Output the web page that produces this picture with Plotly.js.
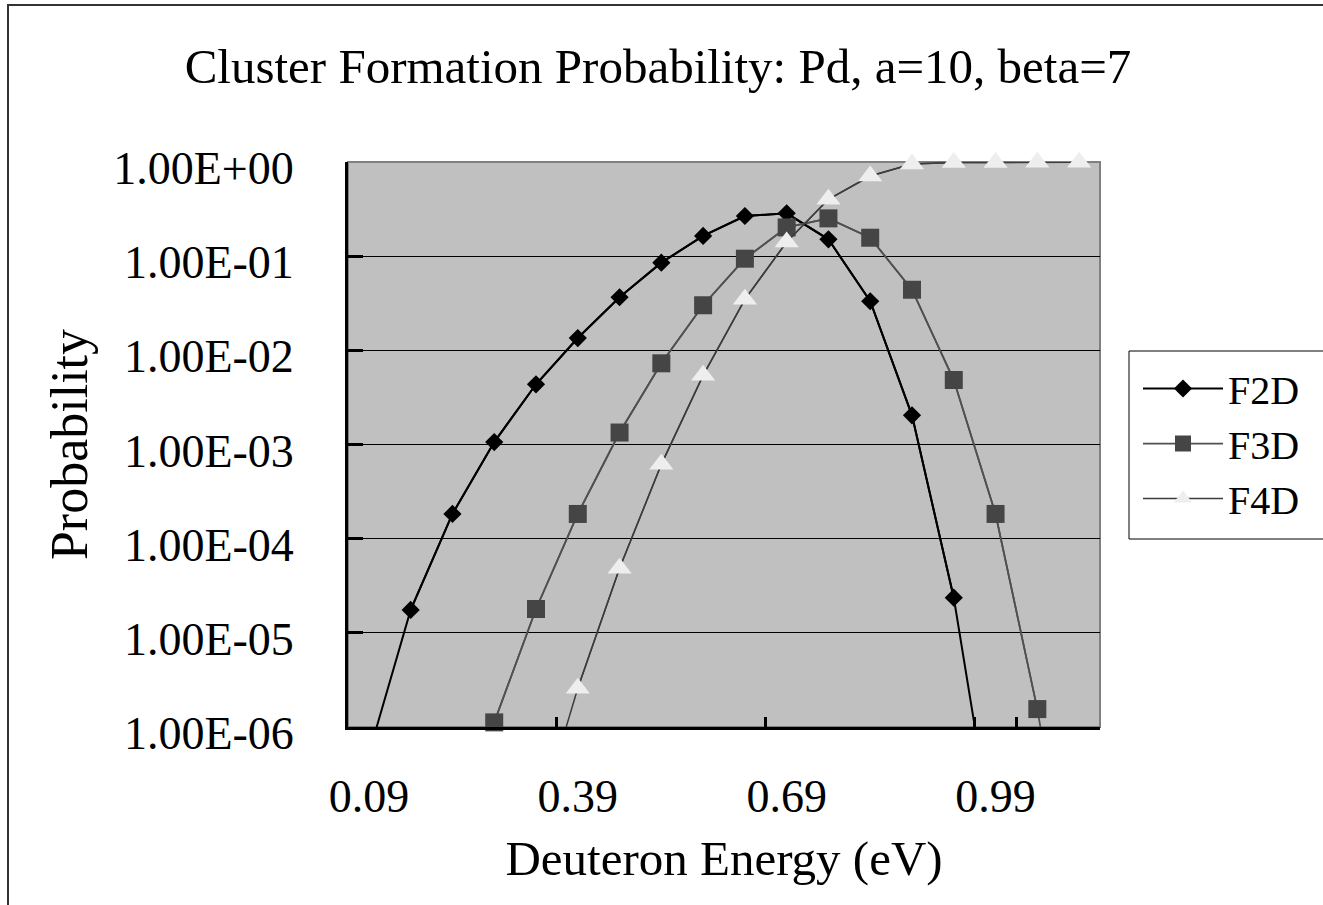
<!DOCTYPE html>
<html>
<head>
<meta charset="utf-8">
<script src="https://cdn.plot.ly/plotly-3.0.1.min.js"></script>
<style>
  html, body { margin: 0; padding: 0; background: #ffffff; overflow: hidden; }
  #chart { width: 1323px; height: 905px; }
</style>
</head>
<body>
<div id="chart"></div>
<script>
// Deuteron energy categories (eV)
var energy = ['0.09','0.15','0.21','0.27','0.33','0.39','0.45','0.51','0.57','0.63','0.69','0.75','0.81','0.87','0.93','0.99','1.05','1.11'];
// Category labels shown on the x axis
var xTickLabels = ['0.09','0.39','0.69','0.99'];
// Probability series (values below 1E-06 fall off the chart)
var F2D = [5.2e-7, 1.75e-5, 1.83e-4, 1.06e-3, 4.36e-3, 1.35e-2, 3.66e-2, 8.53e-2, 0.164, 0.267, 0.285, 0.151, 3.32e-2, 2.04e-3, 2.36e-5, 4.5e-8, null, null];
var F3D = [null, null, 8e-8, 1.12e-6, 1.79e-5, 1.83e-4, 1.34e-3, 7.28e-3, 3.01e-2, 9.4e-2, 0.202, 0.252, 0.157, 4.4e-2, 4.84e-3, 1.83e-4, 1.55e-6, 4e-9];
var F4D = [null, null, null, null, 8.5e-8, 2.58e-6, 4.84e-5, 6.16e-4, 5.43e-3, 3.48e-2, 0.1414, 0.402, 0.71, 0.952, 0.985, 0.99, 0.993, 0.995];
// Y tick values and labels
var yTickVals = [1e-6, 1e-5, 1e-4, 1e-3, 1e-2, 1e-1, 1];
var yTickText = ['1.00E-06','1.00E-05','1.00E-04','1.00E-03','1.00E-02','1.00E-01','1.00E+00'];

var FONT = 'Liberation Serif, Times New Roman, serif';
var YMIN = 1e-6;

var series = [
  {name: 'F2D', y: F2D, line: '#000000', lw: 2, marker: {symbol: 'diamond', size: 14, color: '#000000'}},
  {name: 'F3D', y: F3D, line: '#505050', lw: 1.75, marker: {symbol: 'square', size: 18, color: '#454545'}},
  {name: 'F4D', y: F4D, line: '#3c3c3c', lw: 1.5, marker: {symbol: 'triangle-up', size: 21, color: '#eeeeee'}}
];

var traces = [];
series.forEach(function (s) {
  // full line, clipped to the plot area
  traces.push({
    type: 'scatter', mode: 'lines', x: energy, y: s.y, name: s.name,
    line: {color: s.line, width: s.lw}, showlegend: false, hoverinfo: 'skip',
    legendgroup: s.name
  });
});
series.forEach(function (s) {
  // markers for points within the axis range
  var yin = s.y.map(function (v) { return (v !== null && v >= YMIN) ? v : null; });
  traces.push({
    type: 'scatter', mode: 'lines+markers', x: energy, y: yin, name: s.name,
    line: {color: s.line, width: s.lw},
    marker: {symbol: s.marker.symbol, size: s.marker.size, color: s.marker.color, line: {width: 0}},
    cliponaxis: false, legendgroup: s.name
  });
});

var layout = {
  width: 1323, height: 905,
  paper_bgcolor: '#ffffff',
  plot_bgcolor: '#c0c0c0',
  margin: {l: 348, r: 223, t: 162, b: 178},
  font: {family: FONT, color: '#000000', size: 44},
  title: {
    text: 'Cluster Formation Probability: Pd, a=10, beta=7',
    font: {family: FONT, size: 49, color: '#000000'},
    x: 658 / 1323, xref: 'container', xanchor: 'center',
    y: 1 - 66 / 905, yref: 'container', yanchor: 'middle'
  },
  xaxis: {
    type: 'category',
    categoryorder: 'array', categoryarray: energy,
    range: [-0.5, energy.length - 0.5],
    tickmode: 'array', tickvals: xTickLabels, ticktext: xTickLabels,
    tickson: 'boundaries', tickangle: 0,
    ticks: 'inside', ticklen: 10, tickwidth: 3, tickcolor: '#000000',
    showline: true, linewidth: 3, linecolor: '#000000',
    showgrid: false, zeroline: false,
    tickfont: {family: FONT, size: 46, color: '#000000'},
    ticklabelstandoff: 27,
    title: {text: 'Deuteron Energy (eV)', font: {family: FONT, size: 49, color: '#000000'}, standoff: 20},
    automargin: false
  },
  yaxis: {
    type: 'log', range: [-6, 0],
    tickmode: 'array', tickvals: yTickVals, ticktext: yTickText,
    ticks: 'inside', ticklen: 15, tickwidth: 3, tickcolor: '#000000',
    showline: true, linewidth: 3, linecolor: '#000000',
    showgrid: true, gridcolor: '#000000', gridwidth: 1,
    zeroline: false,
    tickfont: {family: FONT, size: 46, color: '#000000'},
    ticklabelstandoff: 42, ticklabelshift: 6,
    title: {text: 'Probability', font: {family: FONT, size: 52, color: '#000000'}, standoff: 10},
    automargin: false
  },
  legend: {
    x: (1138 - 348) / 752, xanchor: 'left',
    y: (727 - 356) / 565, yanchor: 'top',
    bgcolor: 'rgba(0,0,0,0)', borderwidth: 0,
    itemwidth: 80,
    font: {family: FONT, size: 40, color: '#000000'},
    tracegroupgap: 0
  },
  shapes: [
    // outer chart-area border
    {type: 'rect', xref: 'paper', yref: 'paper',
     x0: (8 - 348) / 752, x1: (1400 - 348) / 752, y0: (727 - 1000) / 565, y1: (727 - 5) / 565,
     line: {color: '#333333', width: 2}, fillcolor: 'rgba(0,0,0,0)', layer: 'below'},
    // plot area frame (top/right)
    {type: 'rect', xref: 'paper', yref: 'paper', x0: 0, x1: 1, y0: 0, y1: 1,
     line: {color: '#808080', width: 2}, fillcolor: 'rgba(0,0,0,0)', layer: 'between'},
    // legend box
    {type: 'rect', xref: 'paper', yref: 'paper',
     x0: (1129 - 348) / 752, x1: (1400 - 348) / 752, y0: (727 - 539) / 565, y1: (727 - 351) / 565,
     line: {color: '#000000', width: 1}, fillcolor: '#ffffff', layer: 'above'}
  ],
  showlegend: true
};

Plotly.newPlot('chart', traces, layout, {displayModeBar: false, staticPlot: true});
</script>
</body>
</html>
